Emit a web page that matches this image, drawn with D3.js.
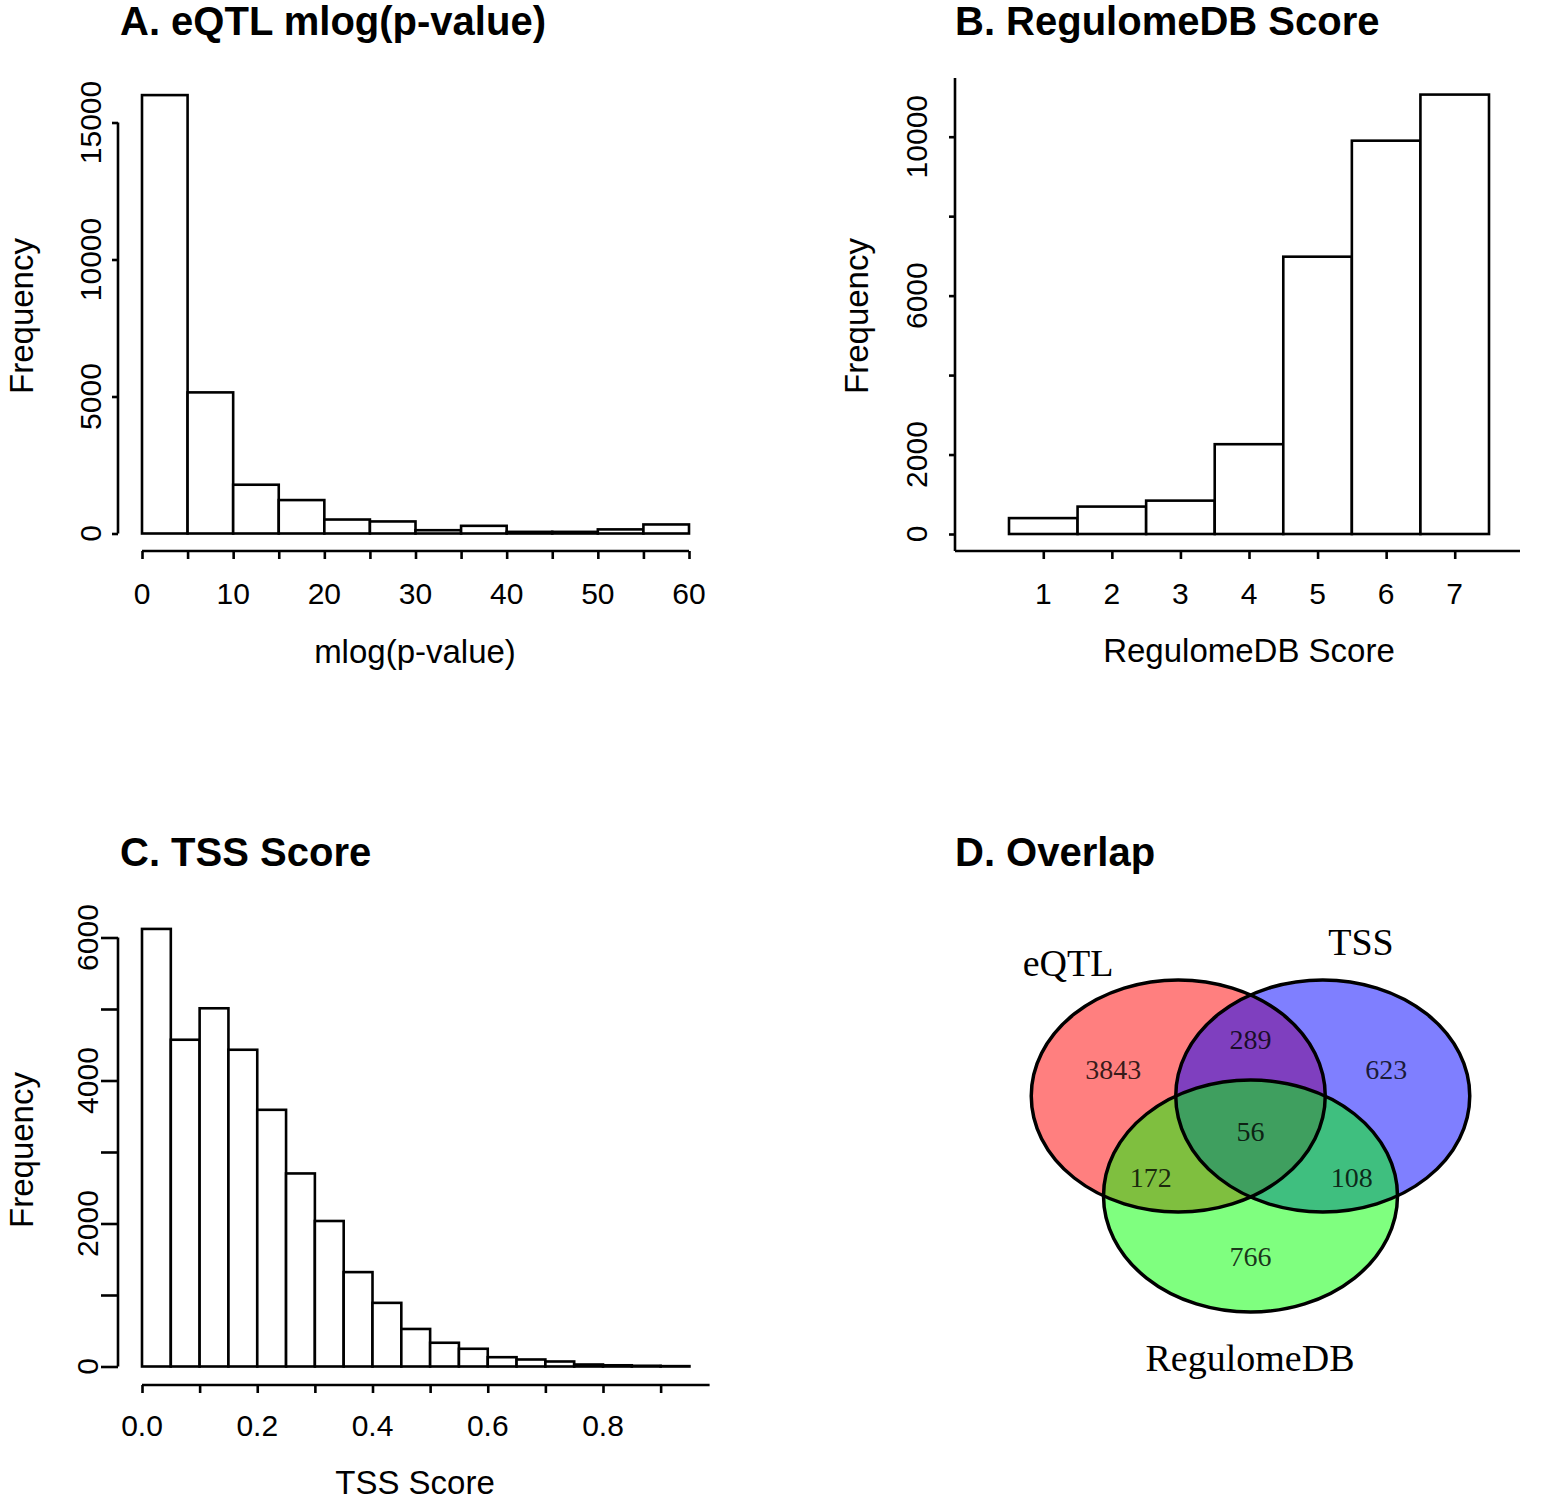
<!DOCTYPE html>
<html><head><meta charset="utf-8">
<script src="https://cdn.jsdelivr.net/npm/d3@7"></script>
<style>
body{margin:0;background:#fff;}
text{font-family:"Liberation Sans",Arial,sans-serif;}
.venn text{font-family:"Liberation Serif","Times New Roman",serif;}
</style></head>
<body><svg id="c" width="1553" height="1500"></svg>
<script>
// ---- Data ----
const eqtlBins = [0,5,10,15,20,25,30,35,40,45,50,55,60];
const eqtlCounts = [16000,5150,1780,1220,510,440,120,280,60,60,150,330];
const eqtlXTicks = [0,5,10,15,20,25,30,35,40,45,50,55,60];
const eqtlXLabels = [0,10,20,30,40,50,60];
const eqtlYTicks = [0,5000,10000,15000];

const regScores = [1,2,3,4,5,6,7];
const regCounts = [400,690,840,2260,6980,9900,11060];
const regYTicks = [0,2000,4000,6000,8000,10000];
const regYLabels = [0,2000,6000,10000];

const tssBins = [0,0.05,0.1,0.15,0.2,0.25,0.3,0.35,0.4,0.45,0.5,0.55,0.6,0.65,0.7,0.75,0.8,0.85,0.9,0.95];
const tssCounts = [6120,4570,5010,4430,3590,2700,2035,1320,890,525,332,248,130,98,70,28,17,10,5];
const tssXTicks = [0,0.1,0.2,0.3,0.4,0.5,0.6,0.7,0.8,0.9];
const tssXLabels = [0,0.2,0.4,0.6,0.8];
const tssYTicks = [0,1000,2000,3000,4000,5000,6000];
const tssYLabels = [0,2000,4000,6000];

const vennSets = ["eQTL","TSS","RegulomeDB"];
const vennColors = ["#ff0000","#0000ff","#00ff00"];
const vennRegions = [
  {label:"3843", pos:[-0.95,-0.66]},
  {label:"289", pos:[0,-0.92]},
  {label:"623", pos:[0.94,-0.66]},
  {label:"56", pos:[0,-0.12]},
  {label:"172", pos:[-0.69,0.28]},
  {label:"108", pos:[0.70,0.28]},
  {label:"766", pos:[0,0.965]}
];

const svg = d3.select("#c");
const LW = 2.6;
const TICKF = 30, TITF = 33;

function title(x,y,t){
  svg.append("text").attr("x",x).attr("y",y).attr("font-size",40).attr("font-weight","bold").text(t);
}

// ===== Panel A =====
{
  const x = d3.scaleLinear().domain([0,60]).range([142,689]);
  const y = d3.scaleLinear().domain([0,15000]).range([533.5,122.5]);
  const g = svg.append("g");
  g.selectAll("rect").data(eqtlCounts).join("rect")
    .attr("x",(d,i)=>x(eqtlBins[i])).attr("width",(d,i)=>x(eqtlBins[i+1])-x(eqtlBins[i]))
    .attr("y",d=>y(d)).attr("height",d=>y(0)-y(d))
    .attr("fill","#fff").attr("stroke","#000").attr("stroke-width",LW);
  const xa = g.append("g").attr("transform","translate(0,551)")
    .call(d3.axisBottom(x).tickValues(eqtlXTicks).tickSize(8).tickFormat(""));
  xa.select(".domain").attr("d",`M${x(0)},0H${x(60)}`);
  xa.selectAll("path,line").attr("stroke-width",LW);
  g.selectAll(".xl").data(eqtlXLabels).join("text").attr("class","xl")
    .attr("x",d=>x(d)).attr("y",604).attr("text-anchor","middle").attr("font-size",TICKF).text(d=>d);
  const ya = g.append("g").attr("transform","translate(118,0)")
    .call(d3.axisLeft(y).tickValues(eqtlYTicks).tickSize(6).tickFormat(""));
  ya.select(".domain").attr("d",`M0,${y(0)}V${y(15000)}`);
  ya.selectAll("path,line").attr("stroke-width",LW);
  g.selectAll(".yl").data(eqtlYTicks).join("text").attr("class","yl")
    .attr("transform",d=>`translate(101,${y(d)}) rotate(-90)`).attr("text-anchor","middle").attr("font-size",TICKF).text(d=>d);
  g.append("text").attr("x",415).attr("y",663).attr("text-anchor","middle").attr("font-size",TITF).text("mlog(p-value)");
  g.append("text").attr("transform","translate(33,316) rotate(-90)").attr("text-anchor","middle").attr("font-size",TITF).text("Frequency");
  title(120,35,"A. eQTL mlog(p-value)");
}

// ===== Panel B =====
{
  const x = d3.scaleLinear().domain([0.5,7.5]).range([1009,1489]);
  const y = d3.scaleLinear().domain([0,10000]).range([534,136.7]);
  const g = svg.append("g");
  g.selectAll("rect").data(regCounts).join("rect")
    .attr("x",(d,i)=>x(regScores[i]-0.5)).attr("width",(d,i)=>x(regScores[i]+0.5)-x(regScores[i]-0.5))
    .attr("y",d=>y(d)).attr("height",d=>y(0)-y(d))
    .attr("fill","#fff").attr("stroke","#000").attr("stroke-width",LW);
  const xa = g.append("g").attr("transform","translate(0,551)")
    .call(d3.axisBottom(x).tickValues(regScores).tickSize(8).tickFormat(""));
  xa.select(".domain").attr("d",`M${x(-0.2875)},0H${x(7.952)}`);
  xa.selectAll("path,line").attr("stroke-width",LW);
  g.selectAll(".xl").data(regScores).join("text").attr("class","xl")
    .attr("x",d=>x(d)).attr("y",604).attr("text-anchor","middle").attr("font-size",TICKF).text(d=>d);
  const ya = g.append("g").attr("transform",`translate(${x(-0.2875)},0)`)
    .call(d3.axisLeft(y).tickValues(regYTicks).tickSize(6).tickFormat(""));
  ya.select(".domain").attr("d",`M0,551V${y(11480)}`);
  ya.selectAll("path,line").attr("stroke-width",LW);
  g.selectAll(".yl").data(regYLabels).join("text").attr("class","yl")
    .attr("transform",d=>`translate(927,${y(d)}) rotate(-90)`).attr("text-anchor","middle").attr("font-size",TICKF).text(d=>d);
  g.append("text").attr("x",1249).attr("y",662).attr("text-anchor","middle").attr("font-size",TITF).text("RegulomeDB Score");
  g.append("text").attr("transform","translate(868,316) rotate(-90)").attr("text-anchor","middle").attr("font-size",TITF).text("Frequency");
  title(955,35,"B. RegulomeDB Score");
}

// ===== Panel C =====
{
  const x = d3.scaleLinear().domain([0,0.8]).range([142,603]);
  const y = d3.scaleLinear().domain([0,6000]).range([1366.5,937.5]);
  const g = svg.append("g");
  g.selectAll("rect").data(tssCounts).join("rect")
    .attr("x",(d,i)=>x(tssBins[i])).attr("width",(d,i)=>x(tssBins[i+1])-x(tssBins[i]))
    .attr("y",d=>y(d)).attr("height",d=>y(0)-y(d))
    .attr("fill","#fff").attr("stroke","#000").attr("stroke-width",LW);
  const xa = g.append("g").attr("transform","translate(0,1385)")
    .call(d3.axisBottom(x).tickValues(tssXTicks).tickSize(8).tickFormat(""));
  xa.select(".domain").attr("d",`M${x(0)},0H${x(0.985)}`);
  xa.selectAll("path,line").attr("stroke-width",LW);
  g.selectAll(".xl").data(tssXLabels).join("text").attr("class","xl")
    .attr("x",d=>x(d)).attr("y",1436).attr("text-anchor","middle").attr("font-size",TICKF).text(d=>d.toFixed(1));
  const ya = g.append("g").attr("transform","translate(118,0)")
    .call(d3.axisLeft(y).tickValues(tssYTicks).tickSize(17).tickFormat(""));
  ya.select(".domain").attr("d",`M0,${y(0)}V${y(6000)}`);
  ya.selectAll("path,line").attr("stroke-width",LW);
  g.selectAll(".yl").data(tssYLabels).join("text").attr("class","yl")
    .attr("transform",d=>`translate(98,${y(d)}) rotate(-90)`).attr("text-anchor","middle").attr("font-size",TICKF).text(d=>d);
  g.append("text").attr("x",415).attr("y",1494).attr("text-anchor","middle").attr("font-size",TITF).text("TSS Score");
  g.append("text").attr("transform","translate(33,1150) rotate(-90)").attr("text-anchor","middle").attr("font-size",TITF).text("Frequency");
  title(120,866,"C. TSS Score");
}

// ===== Panel D: Venn =====
{
  const vx = d3.scaleLinear().domain([-1,1]).range([1106,1395]);
  const vy = d3.scaleLinear().domain([-1,1]).range([1031,1261]);
  const rx = 147, ry = 116;
  const centers = [[-0.5,-0.435],[0.5,-0.435],[0,0.435]];
  const g = svg.append("g").attr("class","venn");
  g.selectAll("ellipse.f").data(centers).join("ellipse").attr("class","f")
    .attr("cx",d=>vx(d[0])).attr("cy",d=>vy(d[1])).attr("rx",rx).attr("ry",ry)
    .attr("fill",(d,i)=>vennColors[i]).attr("fill-opacity",0.5).attr("stroke","none");
  g.selectAll("ellipse.o").data(centers).join("ellipse").attr("class","o")
    .attr("cx",d=>vx(d[0])).attr("cy",d=>vy(d[1])).attr("rx",rx).attr("ry",ry)
    .attr("fill","none").attr("stroke","#000").attr("stroke-width",3.5);
  g.selectAll("text.n").data(vennRegions).join("text").attr("class","n")
    .attr("x",d=>vx(d.pos[0])).attr("y",d=>vy(d.pos[1])+9).attr("text-anchor","middle")
    .attr("font-size",28).attr("fill","#000").attr("fill-opacity",0.8).text(d=>d.label);
  const setLabelPos = [[1068,976],[1361,955],[1250,1371]];
  g.selectAll("text.s").data(vennSets).join("text").attr("class","s")
    .attr("x",(d,i)=>setLabelPos[i][0]).attr("y",(d,i)=>setLabelPos[i][1]).attr("text-anchor","middle")
    .attr("font-size",38).text(d=>d);
  title(955,866,"D. Overlap");
}
</script></body></html>
